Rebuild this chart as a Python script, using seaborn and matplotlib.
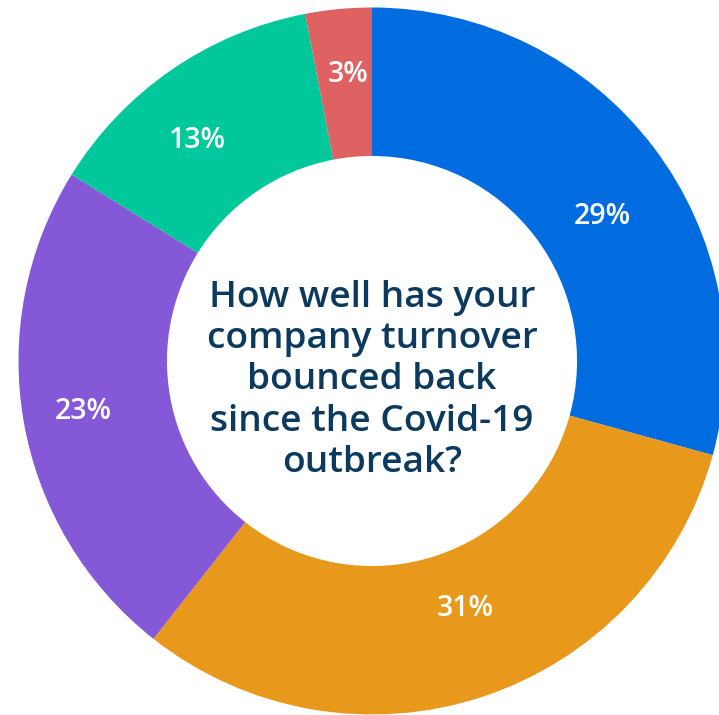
import matplotlib
matplotlib.use("Agg")
import matplotlib.pyplot as plt
import seaborn as sns

# Survey answer shares (percent), clockwise from 12 o'clock
shares = [29, 31, 23, 13, 3]
slice_colors = ["#006CE0", "#E8981A", "#8458D6", "#00C89C", "#DE6262"]
question = "How well has your\ncompany turnover\nbounced back\nsince the Covid-19\noutbreak?"

# Hand-tuned label offsets in pixels (right, down) from the ring midline
label_nudge = [(8, 25), (6, -18), (-14, 2), (-16, 10), (3, -8)]

sns.set_theme(style="white")
plt.rcParams["font.family"] = ["Open Sans", "DejaVu Sans"]

fig = plt.figure(figsize=(7.19, 7.15), dpi=100)
ax = fig.add_axes([0, 0, 1, 1])
ax.axis("off")

total = sum(shares)
palette = sns.color_palette(slice_colors)

wedges, texts, autotexts = ax.pie(
    shares,
    colors=palette,
    startangle=90,
    counterclock=False,
    radius=1.0,
    wedgeprops=dict(width=0.42, linewidth=0),
    autopct=lambda p: f"{round(p * total / 100):.0f}%",
    pctdistance=0.79,
    textprops=dict(color="white", fontsize=20.5, fontweight="semibold"),
)

# Ring centre sits at (372, 361) px with an outer radius of ~353 px
px = 353.5
for t, (dx, dy) in zip(autotexts, label_nudge):
    x, y = t.get_position()
    t.set_position((x + dx / px, y - dy / px))

ax.text(0, -0.055, question, ha="center", va="center", fontsize=26.7,
        fontweight="semibold", color="#0B3A5E", linespacing=1.2)

ax.set_xlim(-372 / px, (719 - 372) / px)
ax.set_ylim(-(715 - 361) / px, 361 / px)
ax.set_aspect("auto")

fig.savefig("out.png", dpi=100, facecolor="white")
